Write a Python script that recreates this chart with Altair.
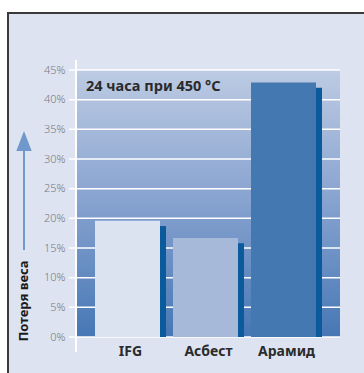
import altair as alt
import pandas as pd

categories = ["IFG", "Асбест", "Арамид"]
main_values = [19.6, 16.7, 42.9]
shadow_values = [18.7, 15.8, 42.0]
bar_colors = ["#dce3f0", "#a6b9d9", "#4478b0"]
grid_values = [0, 5, 10, 15, 20, 25, 30, 35, 40, 45]
annotation = "24 часа при 450 °C"
y_title = "Потеря веса"

W, H = 263, 267
FONT = "Noto Sans"

bars = pd.DataFrame({"cat": categories, "v": main_values, "s": shadow_values, "c": bar_colors})
grid = pd.DataFrame({"g": grid_values})
one = pd.DataFrame({"k": [0]})

xscale = alt.Scale(domain=categories, paddingInner=0.0897, paddingOuter=0.2308)
yscale = alt.Scale(domain=[0, 45], nice=False, zero=True)

yaxis = alt.Axis(title=None, values=grid_values, labelExpr="datum.value + '%'",
                 domain=False, ticks=False, grid=False, labelPadding=12,
                 labelFont=FONT, labelFontSize=11, labelFontWeight=300,
                 labelColor="#7a7a7a", zindex=1)

box = alt.Chart(one).mark_rect(fill="#dde3f0", stroke="#3a3a3a", strokeWidth=2).encode(
    x=alt.value(-69), x2=alt.value(320), y=alt.value(-57), y2=alt.value(330)
)

grad = alt.Chart(one).mark_rect(
    color=alt.LinearGradient(
        gradient="linear",
        stops=[
            alt.GradientStop(offset=0, color="#bdcbe3"),
            alt.GradientStop(offset=0.5, color="#86a2cf"),
            alt.GradientStop(offset=1, color="#4677b4"),
        ],
        x1=0, x2=0, y1=0, y2=1,
    )
).encode(x=alt.value(0), x2=alt.value(W), y=alt.value(0), y2=alt.value(H))

grid_rules = alt.Chart(grid).mark_rule(color="white", strokeWidth=1.5).encode(
    y=alt.Y("g:Q", scale=yscale, axis=yaxis),
    x=alt.value(-8), x2=alt.value(W),
)

vline = alt.Chart(one).mark_rule(color="white", strokeWidth=2).encode(
    x=alt.value(-1), y=alt.value(-10), y2=alt.value(282)
)

main = alt.Chart(bars).mark_bar(size=65, xOffset=-3).encode(
    x=alt.X("cat:N", scale=xscale, sort=categories,
            axis=alt.Axis(title=None, domain=False, ticks=False, labelAngle=0,
                          labelFont=FONT, labelFontSize=14, labelFontWeight="bold",
                          labelColor="#2b2b2b", labelPadding=7, zindex=1)),
    y=alt.Y("v:Q", scale=yscale, axis=yaxis),
    color=alt.Color("c:N", scale=None),
)

shadow = alt.Chart(bars).mark_bar(size=6, xOffset=32.5, color="#0a5a9c").encode(
    x=alt.X("cat:N", scale=xscale, sort=categories),
    y=alt.Y("s:Q", scale=yscale, axis=yaxis),
)

note = alt.Chart(pd.DataFrame({"t": [annotation]})).mark_text(
    font=FONT, fontSize=14.5, fontWeight="bold", color="#2a2a2a", align="left", baseline="alphabetic"
).encode(text="t:N", x=alt.value(9), y=alt.value(21))

ytitle = alt.Chart(pd.DataFrame({"t": [y_title]})).mark_text(
    font=FONT, fontSize=13, fontWeight="bold", color="#1a1a1a", angle=270,
    align="center", baseline="middle"
).encode(text="t:N", x=alt.value(-53.5), y=alt.value(231))

shaft = alt.Chart(one).mark_rule(color="#7098cc", strokeWidth=2).encode(
    x=alt.value(-53), y=alt.value(180), y2=alt.value(76)
)

head = alt.Chart(one).mark_point(
    shape="M0,-1L0.77,1L-0.77,1Z", size=400, filled=True, color="#7098cc", opacity=1
).encode(x=alt.value(-53), y=alt.value(71))

chart = alt.layer(box, grad, grid_rules, vline, main, shadow, note, ytitle, shaft, head).properties(
    width=W, height=H,
    autosize=alt.AutoSizeParams(type="none"),
    padding={"left": 77, "top": 70, "right": 24, "bottom": 36},
    background="white",
).configure_view(stroke=None)

chart.save("out.html", embed_options={"renderer": "svg", "actions": False})
